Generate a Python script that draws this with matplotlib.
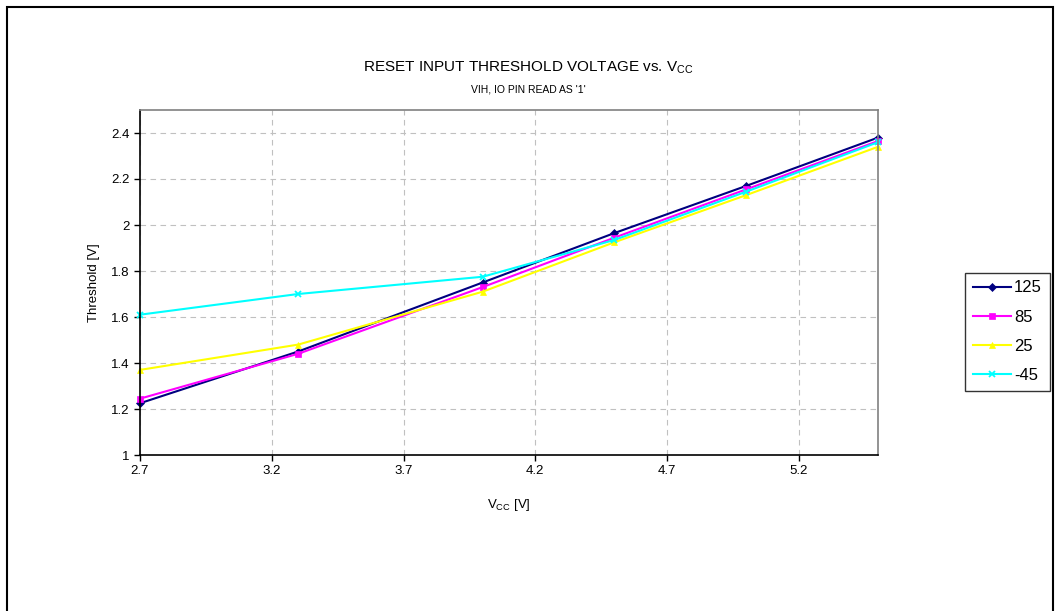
import matplotlib.pyplot as plt
from matplotlib.patches import Rectangle

plt.rcParams['font.family'] = ['Liberation Sans', 'DejaVu Sans']

# data
vcc = [2.7, 3.3, 4.0, 4.5, 5.0, 5.5]
temps = ['125', '85', '25', '-45']
thr_125 = [1.225, 1.45, 1.75, 1.965, 2.17, 2.38]
thr_85 = [1.245, 1.44, 1.73, 1.945, 2.155, 2.365]
thr_25 = [1.37, 1.48, 1.71, 1.925, 2.13, 2.34]
thr_m45 = [1.61, 1.70, 1.775, 1.935, 2.145, 2.36]
x_ticks = [2.7, 3.2, 3.7, 4.2, 4.7, 5.2]
y_ticks = [1, 1.2, 1.4, 1.6, 1.8, 2, 2.2, 2.4]

W, H = 1057, 611
fig = plt.figure(figsize=(W / 100, H / 100), dpi=100)

# outer chart frame (bottom edge runs off the image)
fig.patches.append(Rectangle((7 / W, -0.02), 1046 / W, 1 - 7 / H + 0.02,
                             transform=fig.transFigure, fill=False,
                             edgecolor='black', linewidth=1.5))

ax = fig.add_axes([140 / W, 1 - 455 / H, 738 / W, 345 / H])

styles = [
    (thr_125, '#000080', 'D', 4),
    (thr_85, '#FF00FF', 's', 5),
    (thr_25, '#FFFF00', '^', 5),
    (thr_m45, '#00FFFF', 'x', 5),
]
for label, (vals, color, marker, ms) in zip(temps, styles):
    ax.plot(vcc, vals, color=color, marker=marker, markersize=ms,
            markeredgewidth=1.3 if marker == 'x' else 0.5, linewidth=1.5,
            label=label, clip_on=False)

ax.set_xlim(2.7, 5.5)
ax.set_ylim(1, 2.5)
ax.set_xticks(x_ticks)
ax.set_xticklabels([f'{t:g}' for t in x_ticks])
ax.set_yticks(y_ticks)
ax.set_yticklabels([f'{t:g}' for t in y_ticks])
ax.tick_params(labelsize=9.5, length=4, width=1, direction='out', color='black')
ax.grid(True, color='#c0c0c0', linestyle=(0, (5, 4)), linewidth=0.8)
ax.set_axisbelow(True)
for side in ['top', 'right']:
    ax.spines[side].set_color('#808080')
    ax.spines[side].set_linewidth(1.2)
for side in ['left', 'bottom']:
    ax.spines[side].set_color('black')
    ax.spines[side].set_linewidth(1.2)

ax.set_ylabel('Threshold [V]', fontsize=9.5, labelpad=8)
ax.set_xlabel(r'V$_{\mathregular{CC}}$ [V]', fontsize=9.5, labelpad=14)

fig.text(0.5, 1 - 68 / H, r'RESET INPUT THRESHOLD VOLTAGE vs. V$_{\mathregular{CC}}$',
         ha='center', va='center', fontsize=11)
fig.text(0.5, 1 - 90 / H, "VIH, IO PIN READ AS '1'", ha='center', va='center',
         fontsize=7.5)

leg = fig.legend(*ax.get_legend_handles_labels(), loc='upper left',
                 bbox_to_anchor=(965 / W, 1 - 273 / H),
                 frameon=True, fancybox=False, edgecolor='black', fontsize=12,
                 handlelength=2.3, handletextpad=0.2, borderpad=0.45,
                 labelspacing=0.85, borderaxespad=0)
leg.get_frame().set_linewidth(1)

fig.savefig('out.png', dpi=100)
